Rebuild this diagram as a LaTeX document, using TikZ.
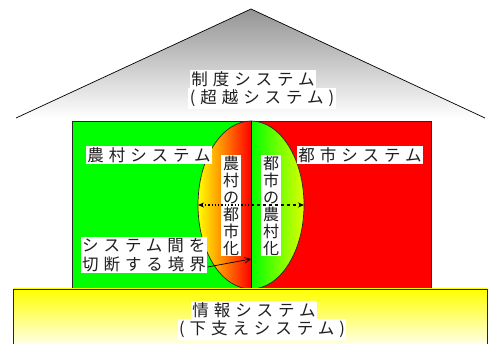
\documentclass[tikz,border=0pt]{standalone}
\usepackage{fontspec}
\newfontfamily\jp[LetterSpace=30]{Noto Sans CJK JP}
\newfontfamily\jpv{Noto Sans CJK JP}
\usetikzlibrary{arrows.meta}
\definecolor{txt}{HTML}{1E1E1E}
\definecolor{lime}{HTML}{00FF00}
\definecolor{yg}{HTML}{DDFF00}
\tikzset{
  lbl/.style={fill=white, inner sep=1.5pt, text=txt, font=\jp\fontsize{16.5}{19}\selectfont},
  vlbl/.style={fill=white, inner xsep=2pt, inner ysep=1pt, text=txt, align=center, font=\jpv\fontsize{16}{17}\selectfont},
  edge/.style={draw=black!85, line width=0.7pt},
}
\begin{document}
\begin{tikzpicture}[x=1pt,y=-1pt]
\useasboundingbox (0,0) rectangle (488,344);
\clip (0,0) rectangle (488,344);
% roof
\shade[top color=black!42, bottom color=white] (16,118) -- (251,9) -- (485,118) -- cycle;
\draw[line width=0.7pt] (16,118) -- (251,9) -- (485,118);
% walls
\fill[lime] (72,121) rectangle (251,289);
\fill[red] (251,121) rectangle (431,289);
\draw[edge] (72,289) -- (72,121) -- (431,121) -- (431,289);
% ellipse halves
\begin{scope}
  \clip (251,205) ellipse [x radius=53, y radius=84];
  \shade[left color=yellow, right color=red] (198,121) rectangle (251,289);
  \shade[left color=lime, right color=yg] (251,121) rectangle (304,289);
\end{scope}
\draw[edge] (251,205) ellipse [x radius=53, y radius=84];
\draw[line width=1pt] (251,121) -- (251,289);
% base
\shade[top color=yellow, bottom color=white] (13,289) rectangle (487,350);
\draw[edge] (13,350) -- (13,289) -- (487,289) -- (487,350);
% labels
\node[lbl] (roof1) at (253,79) {制度システム};
\node[lbl] (roof2) at (262,98.5) {(超越システム)};
\node[lbl] (rural) at (149,155) {農村システム};
\node[lbl] (urban) at (360,155) {都市システム};
\node[vlbl] (v1) at (231,205.5) {農\\村\\の\\都\\市\\化};
\node[vlbl] (v2) at (271,205.5) {都\\市\\の\\農\\村\\化};
\node[lbl, align=left] (cut) at (144,255) {システム間を\\切断する境界};
\node[lbl] (info1) at (254,310.5) {情報システム};
\node[lbl] (info2) at (262,329.5) {(下支えシステム)};
% arrows
\coordinate (eL) at (198,205);
\coordinate (eC) at (251,205);
\coordinate (eR) at (304,205);
\coordinate (bd) at (251,259);
\draw[line width=1.3pt, dotted, {Stealth[length=6pt,width=5pt]}-] (eL) -- (eC);
\draw[line width=1.3pt, dashed, -{Stealth[length=6pt,width=5pt]}] (eC) -- (eR);
\draw[line width=0.7pt, -{Straight Barb[length=6pt,width=6pt]}] (cut.east |- 0,267) -- (bd);
\end{tikzpicture}
\end{document}
